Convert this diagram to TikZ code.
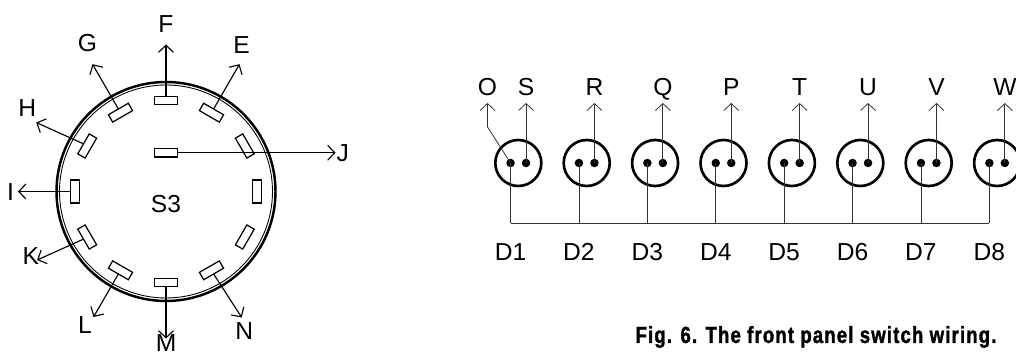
\documentclass[tikz,border=0pt]{standalone}
\usepackage{fontspec}
\setmainfont{Liberation Sans}
\newfontfamily\captionfont[FakeStretch=0.8,LetterSpace=5,FakeBold=1.5]{Liberation Sans Bold}
\usetikzlibrary{positioning,arrows.meta}

\tikzset{
    ringline/.style={circle, draw, inner sep=0pt, outer sep=0pt},
    slot/.style={rectangle, draw, line width=0.7pt, inner sep=0pt, outer sep=0pt,
        minimum width=0.46cm, minimum height=0.17cm},
    lead/.style={draw, line width=0.65pt, -{Straight Barb[length=4pt,width=8.5pt]}},
    wire/.style={draw, black!80, line width=0.45pt},
    wirearrow/.style={wire, -{Straight Barb[length=4pt,width=8.5pt]}},
    socket/.style={circle, draw, line width=1.5pt, inner sep=0pt, outer sep=0pt,
        minimum size=0.92cm},
    pin/.style={circle, fill, inner sep=0pt, outer sep=0pt, minimum size=0.17cm},
    tag/.style={inner sep=0pt, outer sep=0pt, font=\fontsize{14}{14}\selectfont,
        text height=10pt, text depth=0pt},
}

\begin{document}
\begin{tikzpicture}
    \useasboundingbox (0,0) rectangle (20.32,7.08);

    \node [ringline, line width=1.4pt, minimum size=4.38cm] (ring) at (3.32,3.25) {};
    \node [ringline, line width=0.5pt, minimum size=4.26cm] (ringin) at (ring) {};
    \node [tag, below=0.06cm of ring.center] (s3) {S3};

    \node [slot, rotate=-30] (slote) at ([shift={(60:1.82)}] ring) {};
    \node [slot] (slotf) at ([shift={(90:1.82)}] ring) {};
    \node [slot, rotate=30] (slotg) at ([shift={(120:1.82)}] ring) {};
    \node [slot, rotate=60] (sloth) at ([shift={(150:1.82)}] ring) {};
    \node [slot, rotate=90] (sloti) at ([shift={(180:1.82)}] ring) {};
    \node [slot, rotate=120] (slotk) at ([shift={(210:1.82)}] ring) {};
    \node [slot, rotate=150] (slotl) at ([shift={(240:1.82)}] ring) {};
    \node [slot, rotate=180] (slotm) at ([shift={(270:1.82)}] ring) {};
    \node [slot, rotate=210] (slotn) at ([shift={(300:1.82)}] ring) {};
    \node [slot, rotate=240] (slotx) at ([shift={(330:1.82)}] ring) {};
    \node [slot, rotate=270] (sloty) at ([shift={(0:1.82)}] ring) {};
    \node [slot, rotate=300] (slotz) at ([shift={(30:1.82)}] ring) {};
    \node [slot, above=0.69cm of ring.center] (slotj) {};

    \coordinate (tipe) at ([shift={(60:2.94)}] ring);
    \coordinate (tipf) at ([shift={(90:2.94)}] ring);
    \coordinate (tipg) at ([shift={(120:2.94)}] ring);
    \coordinate (tiph) at ([shift={(152:2.94)}] ring);
    \coordinate (tipi) at ([shift={(180:2.96)}] ring);
    \coordinate (tipk) at ([shift={(208:2.92)}] ring);
    \coordinate (tipl) at ([shift={(240:2.9)}] ring);
    \coordinate (tipm) at ([shift={(270:2.94)}] ring);
    \coordinate (tipn) at ([shift={(301:2.94)}] ring);
    \coordinate [right=3.16cm of slotj.east] (tipj);

    \node [tag, above=0.22cm of tipe, xshift=0.04cm] (e) {E};
    \node [tag, above=0.24cm of tipf] (f) {F};
    \node [tag, above=0.26cm of tipg, xshift=-0.1cm] (g) {G};
    \node [tag, above=0.11cm of tiph, xshift=-0.18cm] (h) {H};
    \node [tag, left=0.08cm of tipi] (i) {I};
    \node [tag, left=-0.04cm of tipk, yshift=0.08cm] (k) {K};
    \node [tag, below=-0.02cm of tipl, xshift=-0.17cm] (l) {L};
    \node [tag, below=-0.09cm of tipm] (m) {M};
    \node [tag, below=0.09cm of tipn, xshift=0.05cm] (n) {N};
    \node [tag, right=0.02cm of tipj] (j) {J};

    \path [lead] (slote.north) -- (tipe);
    \path [lead] (slotf.north) -- (tipf);
    \path [lead] (slotg.north) -- (tipg);
    \path [lead] (sloth.north) -- (tiph);
    \path [lead] (sloti.north) -- (tipi);
    \path [lead] (slotk.north) -- (tipk);
    \path [lead] (slotl.north) -- (tipl);
    \path [lead] (slotm.north) -- (tipm);
    \path [lead] (slotn.north) -- (tipn);
    \path [lead] (slotj.east) -- (tipj);

    \node [socket] (sock1) at (10.366,3.82) {};
    \node [socket, right=0.448cm of sock1] (sock2) {};
    \node [socket, right=0.448cm of sock2] (sock3) {};
    \node [socket, right=0.448cm of sock3] (sock4) {};
    \node [socket, right=0.448cm of sock4] (sock5) {};
    \node [socket, right=0.448cm of sock5] (sock6) {};
    \node [socket, right=0.448cm of sock6] (sock7) {};
    \node [socket, right=0.448cm of sock7] (sock8) {};

    \node [pin, left=0.07cm of sock1.center] (a1) {};
    \node [pin, left=0.07cm of sock2.center] (a2) {};
    \node [pin, left=0.07cm of sock3.center] (a3) {};
    \node [pin, left=0.07cm of sock4.center] (a4) {};
    \node [pin, left=0.07cm of sock5.center] (a5) {};
    \node [pin, left=0.07cm of sock6.center] (a6) {};
    \node [pin, left=0.07cm of sock7.center] (a7) {};
    \node [pin, left=0.07cm of sock8.center] (a8) {};
    \node [pin, right=0.07cm of sock1.center] (b1) {};
    \node [pin, right=0.07cm of sock2.center] (b2) {};
    \node [pin, right=0.07cm of sock3.center] (b3) {};
    \node [pin, right=0.07cm of sock4.center] (b4) {};
    \node [pin, right=0.07cm of sock5.center] (b5) {};
    \node [pin, right=0.07cm of sock6.center] (b6) {};
    \node [pin, right=0.07cm of sock7.center] (b7) {};
    \node [pin, right=0.07cm of sock8.center] (b8) {};

    \coordinate [above=1.2cm of b1.center] (top1);
    \coordinate [above=1.2cm of b2.center] (top2);
    \coordinate [above=1.2cm of b3.center] (top3);
    \coordinate [above=1.2cm of b4.center] (top4);
    \coordinate [above=1.2cm of b5.center] (top5);
    \coordinate [above=1.2cm of b6.center] (top6);
    \coordinate [above=1.2cm of b7.center] (top7);
    \coordinate [above=1.2cm of b8.center] (top8);
    \coordinate [left=0.77cm of top1] (topo);
    \coordinate [below=0.48cm of topo] (bendo);

    \node [tag, above=0.15cm of topo] (o) {O};
    \node [tag, above=0.15cm of top1] (s) {S};
    \node [tag, above=0.15cm of top2] (r) {R};
    \node [tag, above=0.15cm of top3] (q) {Q};
    \node [tag, above=0.15cm of top4] (p) {P};
    \node [tag, above=0.15cm of top5] (t) {T};
    \node [tag, above=0.15cm of top6] (u) {U};
    \node [tag, above=0.15cm of top7] (v) {V};
    \node [tag, above=0.15cm of top8] (w) {W};

    \coordinate [below=1.2cm of a1.center] (bus1);
    \coordinate [below=1.2cm of a2.center] (bus2);
    \coordinate [below=1.2cm of a3.center] (bus3);
    \coordinate [below=1.2cm of a4.center] (bus4);
    \coordinate [below=1.2cm of a5.center] (bus5);
    \coordinate [below=1.2cm of a6.center] (bus6);
    \coordinate [below=1.2cm of a7.center] (bus7);
    \coordinate [below=1.2cm of a8.center] (bus8);

    \node [tag, below=0.4cm of bus1] (d1) {D1};
    \node [tag, below=0.4cm of bus2] (d2) {D2};
    \node [tag, below=0.4cm of bus3] (d3) {D3};
    \node [tag, below=0.4cm of bus4] (d4) {D4};
    \node [tag, below=0.4cm of bus5] (d5) {D5};
    \node [tag, below=0.4cm of bus6] (d6) {D6};
    \node [tag, below=0.4cm of bus7] (d7) {D7};
    \node [tag, below=0.4cm of bus8] (d8) {D8};

    \path [wirearrow] (b1.center) -- (top1);
    \path [wirearrow] (b2.center) -- (top2);
    \path [wirearrow] (b3.center) -- (top3);
    \path [wirearrow] (b4.center) -- (top4);
    \path [wirearrow] (b5.center) -- (top5);
    \path [wirearrow] (b6.center) -- (top6);
    \path [wirearrow] (b7.center) -- (top7);
    \path [wirearrow] (b8.center) -- (top8);
    \path [wirearrow] (a1.center) -- (bendo) -- (topo);

    \path [wire] (a1.center) -- (bus1);
    \path [wire] (a2.center) -- (bus2);
    \path [wire] (a3.center) -- (bus3);
    \path [wire] (a4.center) -- (bus4);
    \path [wire] (a5.center) -- (bus5);
    \path [wire] (a6.center) -- (bus6);
    \path [wire] (a7.center) -- (bus7);
    \path [wire] (a8.center) -- (bus8);
    \path [wire] (bus1) -- (bus8);

    \node [inner sep=0pt, font=\captionfont\fontsize{13.2}{13}\selectfont] (fig) at (16.32,0.34) {Fig. 6. The front panel switch wiring.};
\end{tikzpicture}
\end{document}
